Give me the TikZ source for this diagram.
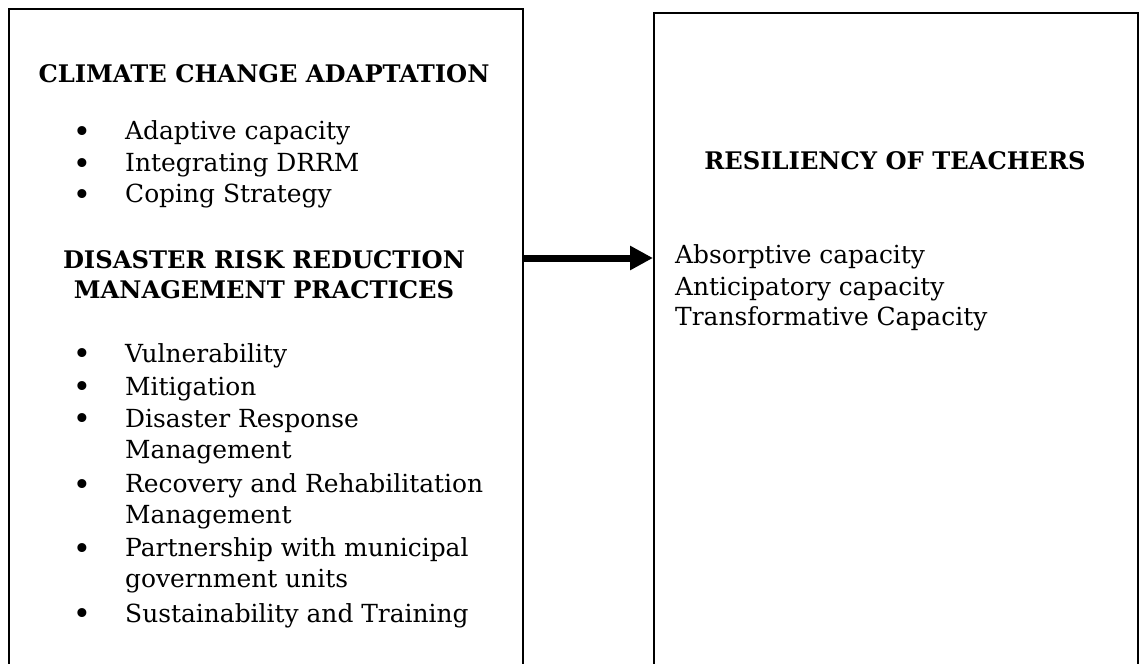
\documentclass[tikz,border=0pt]{standalone}
\usepackage{fontspec}
\setmainfont{DejaVu Serif}
\usetikzlibrary{arrows.meta}
\tikzstyle{panel}=[draw=black, line width=1.7bp, inner sep=0pt, anchor=north west]
\tikzstyle{head}=[font=\bfseries\fontsize{24.3}{30}\selectfont, align=center, anchor=base, inner sep=0pt]
\tikzstyle{item}=[font=\fontsize{25}{30.5}\selectfont, align=left, anchor=base west, inner sep=0pt]
\tikzstyle{bul}=[font=\fontsize{31}{31}\selectfont, anchor=base, inner sep=0pt, yshift=-2.5bp]
\tikzstyle{flow}=[line width=7bp, -{Triangle[length=23bp,width=23bp]}]

\begin{document}
\begin{tikzpicture}[x=1bp, y=-1bp]

      \useasboundingbox (0,0) rectangle (1140,664);
      \clip (0,0) rectangle (1140,664);

      % the two boxes, open below the page
      \node[panel, minimum width=514bp, minimum height=700bp] (adapt) at (8,8) {};
      \node[panel, minimum width=484bp, minimum height=700bp] (resil) at (653,12) {};

      % left box (multi-line nodes sit on their last line)
      \node[head] (cca) at (264,83) {CLIMATE CHANGE ADAPTATION};

      \node[item] (adcap)  at (125,140) {Adaptive capacity};
      \node[item] (integ)  at (125,172) {Integrating DRRM};
      \node[item] (coping) at (125,203) {Coping Strategy};

      \node[head] (drrmp) at (264,298) {DISASTER RISK REDUCTION\\MANAGEMENT PRACTICES};

      \node[item] (vuln)    at (125,362) {Vulnerability};
      \node[item] (mitig)   at (125,395) {Mitigation};
      \node[item] (resp)    at (125,458) {Disaster Response\\Management};
      \node[item] (recov)   at (125,523) {Recovery and Rehabilitation\\Management};
      \node[item] (partner) at (125,587) {Partnership with municipal\\government units};
      \node[item] (sustain) at (125,622) {Sustainability and Training};

      \foreach \y in {140,172,203,362,395,427,493,557,622}
        \node[bul] (b\y) at (82,\y) {\textbullet};

      % right box
      \node[head] (rot) at (895,170) {RESILIENCY OF TEACHERS};

      \node[item] (absorb)  at (675,263) {Absorptive capacity};
      \node[item] (anticip) at (675,295) {Anticipatory capacity};
      \node[item] (transf)  at (675,325) {Transformative Capacity};

      \coordinate (arr) at (0,258);
      \draw[flow] (adapt.east |- arr) -- (resil.west |- arr);

\end{tikzpicture}
\end{document}
